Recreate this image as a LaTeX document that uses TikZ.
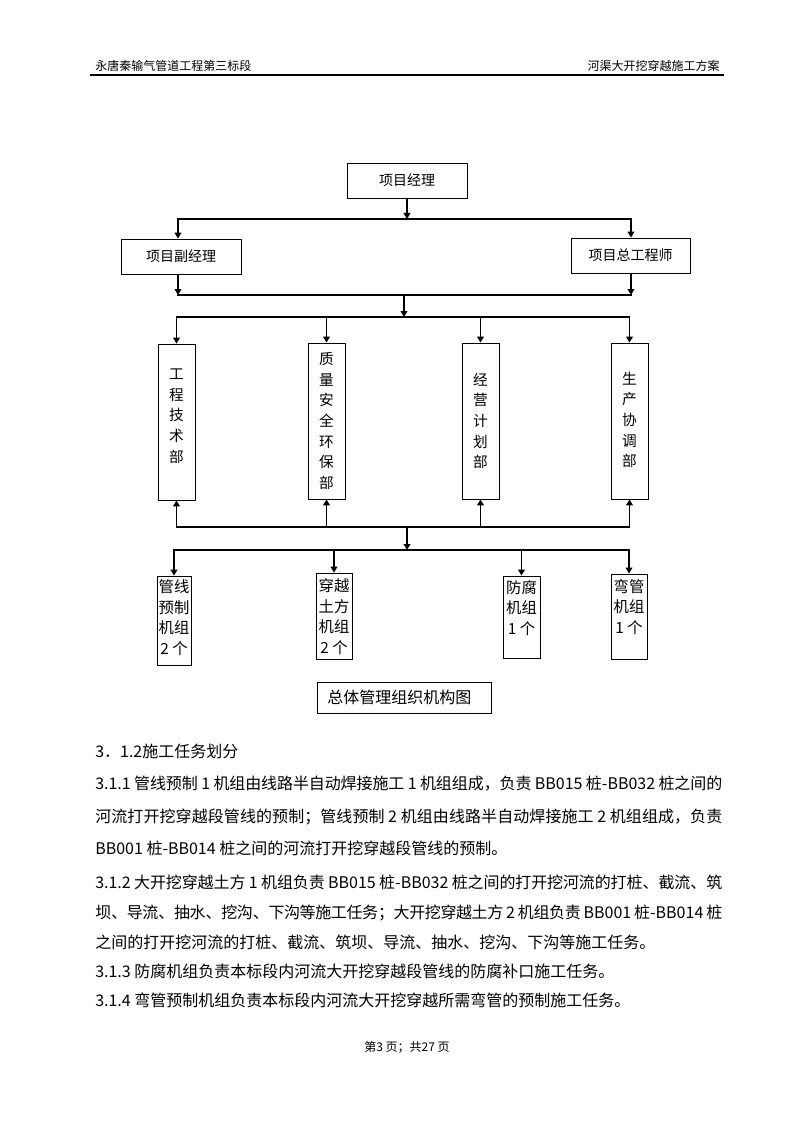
\documentclass[tikz,border=0pt]{standalone}
\usepackage{fontspec}
\setmainfont{Noto Sans CJK SC}
\usetikzlibrary{arrows.meta,fit}
\XeTeXlinebreaklocale "zh"
\XeTeXlinebreakskip=0pt plus 2pt minus 0.5pt
\newcommand\jline[1]{\parbox{470.25pt}{\tolerance=9999\parfillskip=0pt #1}}
\begin{document}
\begin{tikzpicture}[x=0.75pt,y=-0.75pt,
  box/.style={draw, line width=0.6pt, inner sep=0pt},
  hfont/.style={inner sep=0pt, font=\fontsize{10.5pt}{12pt}\selectfont},
  vt/.style={align=center, inner sep=0pt, font=\fontsize{11pt}{15.5pt}\selectfont},
  ct/.style={align=center, inner sep=0pt, font=\fontsize{11.5pt}{15.4pt}\selectfont},
  body/.style={anchor=west, inner sep=0pt, font=\fontsize{12pt}{14pt}\selectfont},
  small/.style={inner sep=0pt, font=\fontsize{9pt}{11pt}\selectfont},
  bus/.style={line width=1.4pt, line cap=rect},
  arr/.style={line width=1.4pt, -{Triangle[width=5pt,length=4.5pt]}}]
\useasboundingbox (0,0) rectangle (794,1123);
\fill[white] (0,0) rectangle (794,1123);

% header
\node[small, anchor=west] (hl) at (95,66) {永唐秦输气管道工程第三标段};
\node[small, anchor=east] (hr) at (720,66) {河渠大开挖穿越施工方案};
\coordinate (rl) at (90,75);
\coordinate (rr) at (724,75);
\draw[line width=1pt] (rl) -- (rr);

% top boxes
\node[box, fit={(347,163) (467,198)}] (pm) {};
\node[box, fit={(121,239) (241,274)}] (dpm) {};
\node[box, fit={(571,238) (690,273)}] (ce) {};
\node[hfont] (tpm) at (pm.center) {项目经理};
\node[hfont] (tdpm) at (dpm.center) {项目副经理};
\node[hfont] (tce) at (ce.center) {项目总工程师};

% departments
\node[box, fit={(158,344) (195,500)}] (d1) {};
\node[box, fit={(308,343) (345,499)}] (d2) {};
\node[box, fit={(462,343) (499,499)}] (d3) {};
\node[box, fit={(611,343) (648,499)}] (d4) {};
\node[vt] (t1) at (176.5,416) {工\\程\\技\\术\\部};
\node[vt] (t2) at (326.5,421) {质\\量\\安\\全\\环\\保\\部};
\node[vt] (t3) at (480.5,421) {经\\营\\计\\划\\部};
\node[vt] (t4) at (629.5,420) {生\\产\\协\\调\\部};

% crews
\node[box, fit={(157,576) (191,665)}] (c1) {};
\node[box, fit={(316,573) (352,659)}] (c2) {};
\node[box, fit={(503,576) (540,658)}] (c3) {};
\node[box, fit={(611,574) (647,659)}] (c4) {};
\node[ct] (u1) at (174,617.5) {管线\\预制\\机组\\2 个};
\node[ct] (u2) at (334,616.5) {穿越\\土方\\机组\\2 个};
\node[ct] (u3) at (521.5,608) {防腐\\机组\\1 个};
\node[ct] (u4) at (629,607) {弯管\\机组\\1 个};

% title
\node[box, fit={(317,682) (491,713)}] (tb) {};
\node[inner sep=0pt, anchor=west, font=\fontsize{12pt}{14pt}\selectfont] (tt) at (327,697.5) {总体管理组织机构图};

% connectors
\coordinate (b1l) at (178,219);
\coordinate (b1r) at (631,219);
\draw[bus] (b1l) -- (b1r);
\draw[arr] (pm.south) -- (pm.south |- b1l);
\draw[arr] (b1l) -- (b1l |- dpm.north);
\draw[arr] (b1r) -- (b1r |- ce.north);

\coordinate (b2l) at (178,295);
\coordinate (b2r) at (631,295);
\draw[bus] (b2l) -- (b2r);
\draw[arr] (b2l |- dpm.south) -- (b2l);
\draw[arr] (b2r |- ce.south) -- (b2r);
\coordinate (b2m) at (404,295);
\coordinate (b3m) at (404,317);
\draw[arr] (b2m) -- (b3m);

\draw[bus] (d1.north |- b3m) -- (d4.north |- b3m);
\foreach \d in {d1,d2,d3,d4} \draw[arr] (\d.north |- b3m) -- (\d.north);

\coordinate (b4m) at (407,527);
\coordinate (b5m) at (407,550);
\draw[bus] (d1.south |- b4m) -- (d4.south |- b4m);
\foreach \d in {d1,d2,d3,d4} \draw[arr] (\d.south |- b4m) -- (\d.south);
\draw[arr] (b4m) -- (b5m);

\draw[bus] (c1.north |- b5m) -- (c4.north |- b5m);
\foreach \c in {c1,c2,c3,c4} \draw[arr] (\c.north |- b5m) -- (\c.north);

% body text
\node[body] (h1) at (95,751) {3．1.2施工任务划分};
\node[body] (l1) at (95,784) {\jline{3.1.1 管线预制 1 机组由线路半自动焊接施工 1 机组组成，负责 BB015 桩-BB032 桩之间的}};
\node[body] (l2) at (95,817) {\jline{河流打开挖穿越段管线的预制；管线预制 2 机组由线路半自动焊接施工 2 机组组成，负责}};
\node[body] (l3) at (95,848) {BB001 桩-BB014 桩之间的河流打开挖穿越段管线的预制。};
\node[body] (l4) at (95,882) {\jline{3.1.2 大开挖穿越土方 1 机组负责 BB015 桩-BB032 桩之间的打开挖河流的打桩、截流、筑}};
\node[body] (l5) at (95,913) {\jline{坝、导流、抽水、挖沟、下沟等施工任务；大开挖穿越土方 2 机组负责 BB001 桩-BB014 桩}};
\node[body] (l6) at (95,942) {之间的打开挖河流的打桩、截流、筑坝、导流、抽水、挖沟、下沟等施工任务。};
\node[body] (l7) at (95,971) {3.1.3 防腐机组负责本标段内河流大开挖穿越段管线的防腐补口施工任务。};
\node[body] (l8) at (95,1000) {3.1.4 弯管预制机组负责本标段内河流大开挖穿越所需弯管的预制施工任务。};

% footer
\node[small] (ft) at (407,1047) {第3 页；共27 页};
\end{tikzpicture}
\end{document}
